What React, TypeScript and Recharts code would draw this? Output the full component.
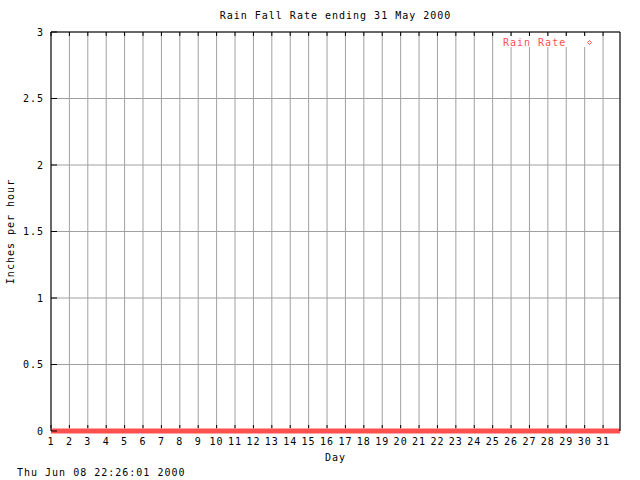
import React from "react";
import { LineChart, Line, XAxis, YAxis, CartesianGrid } from "recharts";

const dayTicks = [1, 2, 3, 4, 5, 6, 7, 8, 9, 10, 11, 12, 13, 14, 15, 16, 17, 18, 19, 20, 21, 22, 23, 24, 25, 26, 27, 28, 29, 30, 31];
const yTicks = [0, 0.5, 1, 1.5, 2, 2.5, 3];
const sampleDays = [1, 2, 3, 4, 5, 6, 7, 8, 9, 10, 11, 12, 13, 14, 15, 16, 17, 18, 19, 20, 21, 22, 23, 24, 25, 26, 27, 28, 29, 30, 31, 31.92];
const rainRate = [0, 0, 0, 0, 0, 0, 0, 0, 0, 0, 0, 0, 0, 0, 0, 0, 0, 0, 0, 0, 0, 0, 0, 0, 0, 0, 0, 0, 0, 0, 0, 0];

const title = "Rain Fall Rate ending 31 May 2000";
const yLabel = "Inches per hour";
const xLabel = "Day";
const footer = "Thu Jun 08 22:26:01 2000";
const seriesName = "Rain Rate";

const data = sampleDays.map((d, i) => ({ day: d, rate: rainRate[i] }));

const W = 640;
const H = 480;
const L = 51;
const R = 620;
const T = 32;
const B = 431;
const RED = "#ff5050";
const GRID = "#a0a0a0";
const FONT = "'DejaVu Sans Mono', 'Liberation Mono', monospace";
const FS = 10;
const LS = 1;

const renderBottomTick = (props: any) => {
  const { x, payload } = props;
  return (
    <g key={`b-${payload.value}`}>
      <line x1={x} x2={x} y1={B - 3} y2={B - 6} stroke="#000" strokeWidth={1} />
      <text x={x} y={445} textAnchor="middle" fontFamily={FONT} fontSize={FS} letterSpacing={LS} fill="#000">
        {payload.value}
      </text>
    </g>
  );
};

const renderTopTick = (props: any) => {
  const { x, payload } = props;
  return <line key={`t-${payload.value}`} x1={x} x2={x} y1={T} y2={T + 4} stroke="#000" strokeWidth={1} />;
};

const renderLeftTick = (props: any) => {
  const { y, payload } = props;
  return (
    <g key={`l-${payload.value}`}>
      <line x1={L} x2={L + 6} y1={y} y2={y} stroke="#000" strokeWidth={1} />
      <text x={44} y={y} dy="0.35em" textAnchor="end" fontFamily={FONT} fontSize={FS} letterSpacing={LS} fill="#000">
        {payload.value}
      </text>
    </g>
  );
};

const renderRightTick = (props: any) => {
  const { y, payload } = props;
  return <line key={`r-${payload.value}`} x1={R} x2={R - 6} y1={y} y2={y} stroke="#000" strokeWidth={1} />;
};

export default function App() {
  return (
    <div style={{ position: "absolute", left: 0, top: 0, width: W, height: H, background: "#fff" }}>
      <LineChart
        width={W}
        height={H}
        data={data}
        margin={{ top: T - 1, left: L - 1, right: W - R - 1, bottom: H - B - 1 }}
      >
        <CartesianGrid stroke={GRID} strokeWidth={1} />
        <XAxis
          dataKey="day"
          type="number"
          domain={[1, 31.92]}
          ticks={dayTicks}
          interval={0}
          height={1}
          tickLine={false}
          axisLine={false}
          tick={renderBottomTick}
        />
        <XAxis
          xAxisId="top"
          orientation="top"
          dataKey="day"
          type="number"
          domain={[1, 31.92]}
          ticks={dayTicks}
          interval={0}
          height={1}
          tickLine={false}
          axisLine={{ stroke: "#000" }}
          tick={renderTopTick}
        />
        <YAxis
          type="number"
          domain={[0, 3]}
          ticks={yTicks}
          interval={0}
          width={1}
          tickLine={false}
          axisLine={{ stroke: "#000" }}
          tick={renderLeftTick}
        />
        <YAxis
          yAxisId="right"
          orientation="right"
          type="number"
          domain={[0, 3]}
          ticks={yTicks}
          interval={0}
          width={1}
          tickLine={false}
          axisLine={{ stroke: "#000" }}
          tick={renderRightTick}
        />
        <Line
          dataKey="rate"
          stroke={RED}
          strokeWidth={5}
          dot={false}
          isAnimationActive={false}
          type="linear"
        />
      </LineChart>
      <svg
        width={W}
        height={H}
        style={{ position: "absolute", left: 0, top: 0, pointerEvents: "none" }}
      >
        <g fontFamily={FONT} fontSize={FS} letterSpacing={LS} fill="#000">
          <text x={(L + R) / 2} y={19} textAnchor="middle">{title}</text>
          <text x={(L + R) / 2} y={461} textAnchor="middle">{xLabel}</text>
          <text x={17} y={476}>{footer}</text>
          <text
            x={0}
            y={0}
            textAnchor="middle"
            transform={`translate(14, ${(T + B) / 2}) rotate(-90)`}
          >
            {yLabel}
          </text>
        </g>
        <rect x={498} y={36} width={104} height={11} fill="#fff" />
        <text x={503} y={46} fontFamily={FONT} fontSize={FS} letterSpacing={LS} fill={RED}>
          {seriesName}
        </text>
        <path d="M589.5 40.5 L591.5 42.5 L589.5 44.5 L587.5 42.5 Z" fill="none" stroke={RED} strokeWidth={1} />
      </svg>
    </div>
  );
}
